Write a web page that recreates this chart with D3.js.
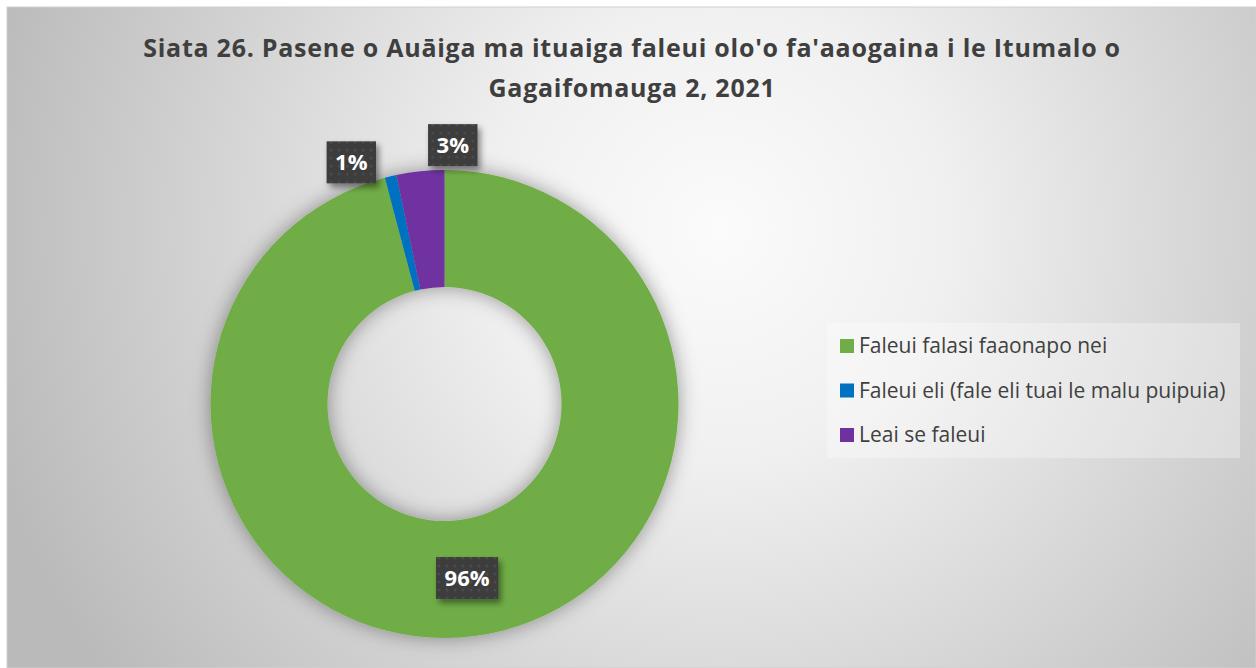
<!DOCTYPE html>
<html>
<head>
<meta charset="utf-8">
<script src="https://cdn.jsdelivr.net/npm/d3@7"></script>
<style>
  body { margin: 0; background: #ffffff; }
  text { font-family: "Open Sans", "Noto Sans", sans-serif; }
</style>
</head>
<body>
<script>
const categories = [
  "Faleui falasi faaonapo nei",
  "Faleui eli (fale eli tuai le malu puipuia)",
  "Leai se faleui",
];
const values = [95.9, 0.8, 3.3];
const labels = ["96%", "1%", "3%"];
const colors = ["#70ad47", "#0070c0", "#7030a0"];
const titleLines = [
  "Siata 26. Pasene o Auāiga ma ituaiga faleui olo'o fa'aaogaina i le Itumalo o",
  "Gagaifomauga 2, 2021",
];

const width = 1256;
const height = 668;
const cx = 444.5;
const cy = 404;
const outerR = 234;
const innerR = 117;

const svg = d3
  .select("body")
  .append("svg")
  .attr("width", width)
  .attr("height", height);

const defs = svg.append("defs");

const bg = defs
  .append("radialGradient")
  .attr("id", "bg")
  .attr("gradientUnits", "userSpaceOnUse")
  .attr("cx", 720)
  .attr("cy", 230)
  .attr("r", 760);
bg.append("stop").attr("offset", 0).attr("stop-color", "#fbfbfb");
bg.append("stop").attr("offset", 0.3).attr("stop-color", "#f0f0f0");
bg.append("stop").attr("offset", 1).attr("stop-color", "#bababa");

const ringShadow = defs
  .append("filter")
  .attr("id", "ringShadow")
  .attr("x", "-20%")
  .attr("y", "-20%")
  .attr("width", "140%")
  .attr("height", "140%");
ringShadow
  .append("feDropShadow")
  .attr("dx", 0)
  .attr("dy", 0)
  .attr("stdDeviation", 10)
  .attr("flood-color", "#000")
  .attr("flood-opacity", 0.38);

const boxShadow = defs
  .append("filter")
  .attr("id", "boxShadow")
  .attr("x", "-30%")
  .attr("y", "-30%")
  .attr("width", "170%")
  .attr("height", "170%");
boxShadow
  .append("feDropShadow")
  .attr("dx", 3)
  .attr("dy", 4)
  .attr("stdDeviation", 3)
  .attr("flood-color", "#000")
  .attr("flood-opacity", 0.45);

const dots = defs
  .append("pattern")
  .attr("id", "dots")
  .attr("patternUnits", "userSpaceOnUse")
  .attr("width", 8)
  .attr("height", 8);
dots.append("rect").attr("width", 8).attr("height", 8).attr("fill", "#3c3c3c");
dots.append("circle").attr("cx", 4).attr("cy", 4).attr("r", 1.6).attr("fill", "#4b4b4b");

svg
  .append("rect")
  .attr("x", 7)
  .attr("y", 7)
  .attr("width", width - 7)
  .attr("height", height - 7)
  .attr("fill", "url(#bg)")
  .attr("stroke", "#d0d0d0")
  .attr("stroke-width", 1);

svg
  .append("g")
  .selectAll("text")
  .data(titleLines)
  .join("text")
  .attr("x", 632)
  .attr("y", (d, i) => 57 + i * 40)
  .attr("text-anchor", "middle")
  .attr("font-size", 25)
  .attr("font-weight", "bold")
  .attr("letter-spacing", 0.75)
  .attr("fill", "#3f3f3f")
  .text((d) => d);

const pie = d3.pie().sort(null).value((d) => d);
const arcs = pie(values);
const arc = d3.arc().innerRadius(innerR).outerRadius(outerR);

const chart = svg.append("g").attr("transform", `translate(${cx},${cy})`);

chart
  .append("g")
  .attr("filter", "url(#ringShadow)")
  .selectAll("path")
  .data(arcs)
  .join("path")
  .attr("d", arc)
  .attr("fill", (d, i) => colors[i]);

// big slices get their label on the ring, small ones go outside and are spread apart
const minShare = 0.1;
const total = d3.sum(values);
const outside = arcs.filter((d) => d.value / total < minShare);
const midAngle = (d) => (d.startAngle + d.endAngle) / 2;
const meanAngle = d3.mean(outside, midAngle);
const spread = 0.4;
outside
  .slice()
  .sort((a, b) => midAngle(a) - midAngle(b))
  .forEach((d, i, arr) => {
    d.labelAngle = meanAngle + (i - (arr.length - 1) / 2) * spread;
  });

const labelPos = (d) => {
  if (d.value / total >= minShare) return arc.centroid(d);
  const a = d.labelAngle - (d.labelAngle > Math.PI ? 2 * Math.PI : 0);
  const r = outerR + 25;
  return [r * Math.sin(a), -r * Math.cos(a)];
};

const labelGroups = chart
  .append("g")
  .selectAll("g")
  .data(arcs)
  .join("g")
  .attr("transform", (d) => `translate(${labelPos(d).join(",")})`);

labelGroups
  .append("rect")
  .attr("fill", "url(#dots)")
  .attr("filter", "url(#boxShadow)");

labelGroups
  .append("text")
  .attr("text-anchor", "middle")
  .attr("dy", "0.36em")
  .attr("font-size", 22)
  .attr("font-weight", "bold")
  .attr("fill", "#ffffff")
  .text((d, i) => labels[i]);

labelGroups.each(function () {
  const w = d3.select(this).select("text").node().getComputedTextLength() + 17;
  d3.select(this)
    .select("rect")
    .attr("x", -w / 2)
    .attr("y", -21)
    .attr("width", w)
    .attr("height", 42);
});

const legend = svg.append("g").attr("transform", "translate(827,323)");

legend
  .append("rect")
  .attr("width", 413)
  .attr("height", 135)
  .attr("fill", "#ffffff")
  .attr("fill-opacity", 0.3);

const legendItems = legend
  .selectAll("g")
  .data(categories)
  .join("g")
  .attr("transform", (d, i) => `translate(13,${23 + i * 44.5})`);

legendItems
  .append("rect")
  .attr("y", -7)
  .attr("width", 14)
  .attr("height", 14)
  .attr("fill", (d, i) => colors[i]);

legendItems
  .append("text")
  .attr("x", 19)
  .attr("dy", "0.35em")
  .attr("font-size", 21)
  .attr("fill", "#404040")
  .text((d) => d);
</script>
</body>
</html>
